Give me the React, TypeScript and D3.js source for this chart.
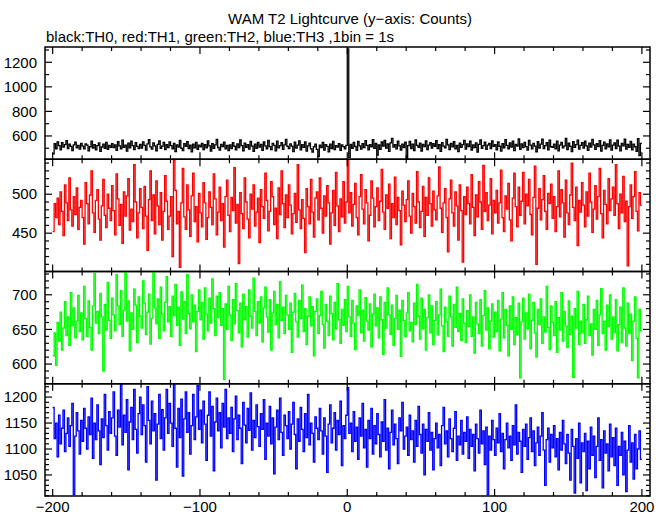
import React from "react";
import * as d3 from "d3";

const startTime = -200;

const th0 = [
  455, 538, 496, 552, 521, 487, 545, 509, 530, 561, 498, 534, 515, 480, 527, 549, 503, 524, 492, 540,
  518, 494, 536, 525, 478, 512, 558, 501, 529, 486, 522, 543, 475, 510, 533, 499, 548, 490, 523, 507,
  537, 505, 528, 483, 554, 519, 496, 566, 508, 526, 477, 541, 503, 557, 521, 489, 546, 515, 497, 532,
  502, 551, 523, 484, 536, 569, 511, 493, 544, 520, 479, 531, 560, 500, 518, 547, 488, 529, 506, 552,
  521, 495, 539, 472, 527, 509, 563, 500, 481, 537, 515, 554, 497, 525, 470, 533, 504, 548, 491, 526,
  512, 540, 489, 530, 503, 559, 520, 476, 538, 499, 527, 571, 506, 485, 531, 514, 550, 494, 523, 480,
  528, 498, 546, 516, 487, 535, 505, 567, 522, 478, 541, 508, 529, 493, 555, 517, 474, 533, 500, 548,
  509, 531, 482, 551, 519, 496, 564, 513, 488, 539, 524, 479, 557, 503, 521, 545, 490, 527, 573, 515,
  497, 536, 518, 473, 549, 501, 526, 560, 486, 530, 507, 552, 476, 520, 541, 495, 468, 512, 534, 491,
  431, 525, 506, 547, 484, 529, 515, 471, 533, 498, 556, 489, 522, 510, 538, 482, 527, 513, 496, 524,
  1310, 425, 532, 500, 548, 514, 483, 555, 519, 492, 538, 505, 562, 523, 487, 530, 511, 570, 499, 540,
  445, 528, 490, 551, 517, 563, 502, 535, 474, 543, 580, 509, 529, 494, 558, 520, 485, 534, 506, 549,
  415, 521, 556, 498, 533, 480, 567, 524, 508, 542, 477, 531, 513, 559, 489, 526, 545, 502, 537, 516,
  561, 497, 530, 475, 546, 518, 504, 572, 527, 488, 540, 511, 553, 496, 523, 472, 541, 507, 529, 564,
  493, 535, 514, 557, 485, 528, 506, 544, 469, 532, 568, 500, 521, 550, 490, 525, 539, 498, 560, 515,
  530, 487, 552, 516, 476, 538, 503, 570, 524, 494, 543, 509, 558, 481, 531, 517, 576, 491, 536, 505,
  547, 513, 484, 563, 526, 495, 539, 518, 471, 554, 502, 533, 574, 497, 522, 545, 486, 565, 512, 508,
  534, 496, 558, 478, 525, 548, 503, 520, 581, 488, 541, 515, 473, 553, 507, 530, 566, 492, 524, 545,
  501, 557, 519, 482, 542, 510, 571, 528, 490, 537, 514, 562, 476, 523, 549, 496, 535, 511, 568, 484,
  526, 544, 498, 565, 517, 479, 539, 520, 575, 493, 531, 508, 556, 486, 534, 512, 474, 578, 440, 539,
];

const th1 = [
  452, 488, 470, 495, 461, 503, 478, 447, 512, 489, 466, 521, 480, 459, 497, 474, 508, 455, 483, 492,
  470, 436, 515, 488, 462, 499, 530, 476, 451, 492, 506, 468, 441, 485, 519, 473, 457, 500, 482, 466,
  511, 479, 448, 526, 494, 460, 487, 437, 503, 472, 498, 520, 454, 481, 465, 538, 490, 444, 476, 507,
  483, 456, 510, 472, 428, 493, 530, 466, 499, 449, 517, 485, 461, 502, 441, 478, 524, 491, 455, 472,
  497, 420, 543, 505, 462, 478, 406, 489, 533, 471, 455, 512, 480, 446, 498, 527, 465, 484, 439, 501,
  476, 458, 515, 489, 442, 470, 503, 483, 461, 526, 494, 448, 477, 509, 466, 488, 432, 497, 518, 473,
  452, 496, 479, 534, 463, 487, 411, 502, 475, 456, 521, 490, 468, 444, 500, 481, 512, 459, 477, 495,
  438, 506, 484, 469, 527, 492, 453, 478, 516, 497, 461, 482, 443, 508, 474, 530, 488, 457, 499, 470,
  512, 486, 449, 475, 501, 464, 538, 480, 456, 493, 469, 425, 507, 484, 462, 519, 477, 445, 495, 503,
  467, 521, 482, 450, 498, 472, 511, 489, 436, 476, 505, 460, 528, 485, 452, 494, 471, 516, 463, 490,
  548, 476, 502, 459, 487, 514, 470, 448, 497, 525, 481, 462, 506, 489, 440, 473, 517, 495, 458, 484,
  508, 466, 491, 532, 477, 455, 499, 482, 513, 443, 488, 470, 522, 461, 496, 479, 435, 504, 486, 465,
  493, 517, 472, 450, 501, 484, 463, 529, 490, 457, 478, 510, 446, 496, 473, 521, 488, 459, 504, 480,
  467, 498, 535, 482, 451, 489, 507, 470, 426, 494, 518, 476, 459, 503, 485, 441, 512, 479, 413, 497,
  474, 509, 488, 462, 525, 483, 447, 499, 471, 516, 490, 455, 537, 478, 502, 466, 486, 520, 449, 492,
  476, 505, 463, 489, 531, 470, 452, 498, 481, 514, 467, 440, 495, 527, 484, 458, 509, 473, 491, 528,
  462, 500, 485, 519, 474, 448, 496, 536, 410, 482, 507, 467, 493, 524, 478, 455, 501, 488, 513, 469,
  497, 452, 484, 530, 471, 506, 489, 445, 518, 476, 461, 499, 540, 483, 466, 509, 434, 492, 477, 515,
  486, 458, 503, 472, 527, 490, 451, 481, 511, 468, 497, 533, 475, 444, 505, 487, 462, 520, 479, 494,
  509, 473, 538, 488, 456, 500, 476, 523, 465, 491, 408, 484, 512, 469, 497, 529, 478, 453, 502, 486,
];

const th2 = [
  612, 645, 598, 660, 633, 675, 620, 652, 690, 641, 668, 627, 703, 655, 681, 638, 662, 699, 647, 674,
  635, 712, 666, 640, 691, 653, 620, 684, 731, 659, 676, 644, 702, 668, 590, 686, 649, 718, 663, 637,
  695, 671, 648, 729, 684, 657, 706, 640, 678, 733, 662, 691, 619, 674, 650, 708, 685, 631, 697, 669,
  652, 720, 688, 643, 675, 701, 629, 666, 734, 681, 658, 694, 637, 711, 672, 648, 689, 726, 661, 683,
  640, 698, 670, 715, 656, 682, 627, 704, 665, 690, 644, 729, 673, 651, 700, 661, 685, 618, 676, 707,
  664, 689, 636, 710, 672, 648, 695, 659, 723, 680, 641, 698, 667, 703, 656, 680, 578, 687, 650, 712,
  671, 634, 693, 658, 716, 677, 645, 688, 625, 701, 664, 683, 639, 707, 669, 652, 724, 676, 641, 690,
  659, 697, 632, 681, 711, 668, 646, 693, 620, 674, 705, 657, 686, 638, 719, 663, 682, 644, 699, 671,
  650, 688, 617, 675, 702, 661, 639, 692, 666, 714, 647, 680, 628, 669, 697, 655, 683, 612, 676, 694,
  644, 670, 705, 657, 623, 686, 662, 641, 698, 673, 635, 689, 651, 716, 664, 630, 679, 656, 693, 647,
  712, 668, 640, 692, 659, 621, 684, 670, 707, 645, 678, 633, 696, 662, 649, 687, 625, 672, 701, 655,
  681, 638, 697, 664, 614, 689, 652, 710, 671, 643, 685, 627, 666, 699, 650, 678, 611, 692, 663, 640,
  674, 703, 648, 660, 632, 688, 657, 715, 669, 636, 695, 651, 679, 620, 667, 700, 645, 684, 628, 663,
  690, 642, 671, 708, 655, 618, 682, 661, 640, 698, 668, 626, 686, 653, 711, 647, 673, 634, 694, 659,
  631, 677, 654, 700, 640, 668, 616, 689, 658, 644, 693, 626, 670, 706, 649, 681, 622, 662, 687, 639,
  675, 647, 692, 619, 665, 703, 638, 679, 656, 612, 684, 650, 697, 628, 667, 642, 688, 580, 661, 695,
  636, 674, 651, 701, 622, 663, 689, 645, 610, 679, 657, 694, 630, 668, 646, 712, 653, 621, 684, 660,
  641, 690, 617, 667, 649, 703, 633, 676, 655, 624, 691, 643, 669, 581, 680, 652, 705, 628, 662, 645,
  686, 630, 664, 698, 641, 658, 613, 679, 650, 692, 627, 671, 709, 644, 662, 620, 685, 654, 700, 636,
  668, 645, 693, 619, 657, 682, 631, 710, 652, 626, 688, 644, 672, 605, 662, 697, 637, 580, 679, 648,
];

const th3 = [
  1180, 1120, 1150, 1085, 1165, 1110, 1140, 1175, 1095, 1130, 1160, 1105, 1145, 1188, 1012, 1125, 1170, 1135, 1090, 1155,
  1115, 1178, 1140, 1100, 1162, 1128, 1198, 1082, 1150, 1118, 1185, 1135, 1070, 1158, 1122, 1205, 1145, 1098, 1172, 1130,
  1160, 1210, 1125, 1088, 1175, 1142, 1224, 1108, 1165, 1132, 1195, 1060, 1152, 1180, 1118, 1215, 1138, 1092, 1168, 1200,
  1128, 1185, 1145, 1075, 1220, 1155, 1110, 1192, 1135, 1168, 1040, 1148, 1205, 1120, 1176, 1098, 1160, 1215, 1130, 1188,
  1150, 1105, 1224, 1140, 1065, 1178, 1122, 1196, 1048, 1158, 1210, 1132, 1170, 1090, 1145, 1205, 1118, 1162, 1222, 1138,
  1175, 1112, 1192, 1148, 1078, 1165, 1210, 1125, 1182, 1058, 1152, 1198, 1135, 1170, 1102, 1188, 1142, 1215, 1120, 1160,
  1130, 1180, 1095, 1158, 1202, 1118, 1165, 1140, 1072, 1190, 1146, 1112, 1178, 1136, 1208, 1098, 1155, 1122, 1185, 1143,
  1105, 1168, 1138, 1195, 1080, 1150, 1125, 1182, 1110, 1160, 1052, 1142, 1175, 1118, 1198, 1132, 1088, 1165, 1145, 1120,
  1172, 1100, 1148, 1190, 1128, 1062, 1158, 1115, 1180, 1138, 1095, 1168, 1122, 1205, 1108, 1150, 1130, 1075, 1162, 1140,
  1118, 1178, 1135, 1090, 1160, 1125, 1055, 1148, 1185, 1112, 1140, 1170, 1098, 1155, 1128, 1192, 1068, 1145, 1120, 1165,
  1218, 1130, 1150, 1095, 1172, 1115, 1142, 1080, 1160, 1125, 1188, 1102, 1138, 1065, 1155, 1120, 1178, 1090, 1145, 1110,
  1168, 1128, 1085, 1152, 1115, 1195, 1098, 1140, 1062, 1132, 1175, 1108, 1148, 1120, 1072, 1160, 1135, 1190, 1100, 1125,
  1142, 1088, 1165, 1118, 1135, 1075, 1155, 1105, 1182, 1128, 1092, 1148, 1050, 1138, 1115, 1170, 1098, 1132, 1060, 1120,
  1150, 1102, 1128, 1068, 1145, 1180, 1110, 1135, 1085, 1158, 1120, 1095, 1140, 1172, 1078, 1125, 1108, 1155, 1090, 1132,
  1115, 1162, 1082, 1138, 1105, 1128, 1058, 1148, 1120, 1092, 1175, 1110, 1135, 1070, 1142, 1012, 1125, 1098, 1155, 1118,
  1088, 1140, 1112, 1168, 1095, 1130, 1062, 1118, 1150, 1102, 1125, 1078, 1145, 1108, 1185, 1090, 1132, 1115, 1055, 1138,
  1105, 1148, 1080, 1122, 1160, 1095, 1135, 1068, 1112, 1142, 1088, 1125, 1170, 1098, 1030, 1118, 1140, 1075, 1128, 1102,
  1145, 1085, 1120, 1060, 1132, 1098, 1155, 1110, 1072, 1128, 1092, 1040, 1138, 1105, 1015, 1120, 1082, 1150, 1035, 1112,
  1095, 1130, 1020, 1115, 1062, 1142, 1088, 1125, 1045, 1105, 1160, 1078, 1118, 1025, 1135, 1092, 1110, 1058, 1148, 1085,
  1122, 1068, 1140, 1030, 1105, 1088, 1132, 1050, 1115, 1018, 1098, 1145, 1075, 1112, 1042, 1128, 1062, 1100, 1135, 1080,
];

const xTickLabels = [-200, -100, 0, 100, 200];
const titleText = "WAM T2 Lightcurve (y\u2212axis: Counts)";
const subtitleText = "black:TH0, red:TH1, green:TH2, blue:TH3 ,1bin = 1s";

const panels = [
  { name: "TH0", data: th0, color: "#000000", domain: [410.3, 1324.6], labels: [600, 800, 1000, 1200], minor: 100, major: 200 },
  { name: "TH1", data: th1, color: "#ff0000", domain: [400.8, 544.9], labels: [450, 500], minor: 10, major: 50 },
  { name: "TH2", data: th2, color: "#00ff00", domain: [571.6, 733.6], labels: [600, 650, 700], minor: 10, major: 50 },
  { name: "TH3", data: th3, color: "#0000ff", domain: [1009.5, 1225.7], labels: [1050, 1100, 1150, 1200], minor: 10, major: 50 },
];

const W = 669;
const H = 515;
const left = 45;
const right = 650;
const top = 47;
const bottom = 496;
const font = "'Liberation Sans', Arial, Helvetica, sans-serif";

export default function App() {
  const x = d3.scaleLinear().domain([-205.2, 205.5]).range([left, right]);
  const ph = (bottom - top) / panels.length;
  const xMinor = d3.range(-200, 201, 20);

  return (
    <svg width={W} height={H} style={{ position: "fixed", left: 0, top: 0, background: "#fff" }}>
      <rect x={0} y={0} width={W} height={H} fill="#fff" />
      <text x={350} y={24} textAnchor="middle" fontFamily={font} fontSize={15}>{titleText}</text>
      <text x={46} y={42} fontFamily={font} fontSize={15}>{subtitleText}</text>
      <defs>
        {panels.map((p, i) => (
          <clipPath id={`clip${i}`} key={i}>
            <rect x={left} y={top + i * ph} width={right - left} height={ph} />
          </clipPath>
        ))}
      </defs>
      {panels.map((p, i) => {
        const y0 = top + i * ph;
        const y1 = y0 + ph;
        const y = d3.scaleLinear().domain(p.domain).range([y1, y0]);
        const pts: [number, number][] = p.data.map((v, k) => [startTime + k, v]);
        pts.push([startTime + p.data.length, p.data[p.data.length - 1]]);
        const line = d3
          .line<[number, number]>()
          .x((d) => x(d[0]))
          .y((d) => y(d[1]))
          .curve(d3.curveStepAfter);
        const yTicks = d3.range(Math.ceil(p.domain[0] / p.minor) * p.minor, p.domain[1], p.minor);
        return (
          <g key={i}>
            <path d={line(pts) || ""} fill="none" stroke={p.color} strokeWidth={1.3} strokeLinejoin="miter" clipPath={`url(#clip${i})`} />
            {yTicks.map((t) => {
              const isMajor = Math.abs(t / p.major - Math.round(t / p.major)) < 1e-6;
              const len = isMajor ? 7 : 4;
              const yy = y(t);
              return (
                <g key={t}>
                  <line x1={left} x2={left + len} y1={yy} y2={yy} stroke="#000" strokeWidth={1.2} />
                  <line x1={right} x2={right - len} y1={yy} y2={yy} stroke="#000" strokeWidth={1.2} />
                </g>
              );
            })}
            {p.labels.map((t) => (
              <text key={t} x={37} y={y(t)} dy="0.35em" textAnchor="end" fontFamily={font} fontSize={15}>{t}</text>
            ))}
            {xMinor.map((t) => {
              const isMajor = t % 100 === 0;
              const len = isMajor ? 7 : 4;
              const xx = x(t);
              return (
                <g key={t}>
                  <line x1={xx} x2={xx} y1={y0} y2={y0 + len} stroke="#000" strokeWidth={1.2} />
                  <line x1={xx} x2={xx} y1={y1} y2={y1 - len} stroke="#000" strokeWidth={1.2} />
                </g>
              );
            })}
            <rect x={left} y={y0} width={right - left} height={ph} fill="none" stroke="#000" strokeWidth={1.5} />
          </g>
        );
      })}
      {xTickLabels.map((t) => (
        <text key={t} x={x(t)} y={512} textAnchor="middle" fontFamily={font} fontSize={15}>{t < 0 ? `\u2212${Math.abs(t)}` : t}</text>
      ))}
    </svg>
  );
}
